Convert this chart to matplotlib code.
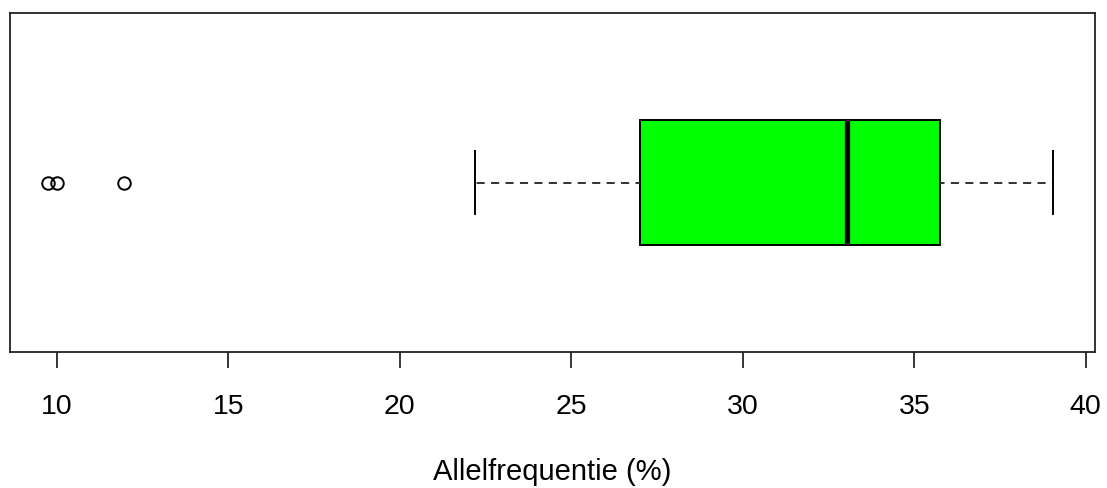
import matplotlib
matplotlib.use("Agg")
import matplotlib.pyplot as plt

plt.rcParams['font.family'] = ['Liberation Sans', 'DejaVu Sans']

# Boxplot statistics (Allelfrequentie, %)
whisker_low = 22.2
q1 = 27.0
median = 33.05
q3 = 35.75
whisker_high = 39.05
outliers = [9.75, 10.0, 11.95]
xticks = [10, 15, 20, 25, 30, 35, 40]
xlabel = "Allelfrequentie (%)"

fig = plt.figure(figsize=(11.07, 4.88), dpi=100)
ax = fig.add_axes([10/1107, (488-352)/488, (1095-10)/1107, (352-13)/488])

stats = [dict(whislo=whisker_low, q1=q1, med=median, q3=q3, whishi=whisker_high,
              fliers=outliers, label="")]
ax.bxp(stats, positions=[1], widths=0.4, vert=False, patch_artist=True,
       showfliers=True,
       boxprops=dict(facecolor="#00ff00", edgecolor="black", linewidth=1.4),
       medianprops=dict(color="black", linewidth=3.8, solid_capstyle="butt"),
       whiskerprops=dict(color="#222222", linewidth=1.3, linestyle=(2, (4.5, 3.5))),
       capprops=dict(color="black", linewidth=1.4),
       capwidths=0.2,
       flierprops=dict(marker="o", markerfacecolor="none", markeredgecolor="black",
                       markersize=9, markeredgewidth=1.4, linestyle="none"))

ax.set_xlim(8.63, 40.27)
ax.set_ylim(0.46, 1.54)
ax.set_yticks([])
ax.set_xticks(xticks)
ax.set_xticklabels([str(t) for t in xticks])
ax.tick_params(axis="x", length=11.5, width=1.1, pad=18.5, labelsize=20.5, colors="black")
for s in ax.spines.values():
    s.set_linewidth(1.3)
    s.set_color("#222222")
ax.set_xlabel(xlabel, fontsize=21, labelpad=27.5)

fig.savefig("out.png", dpi=100)
